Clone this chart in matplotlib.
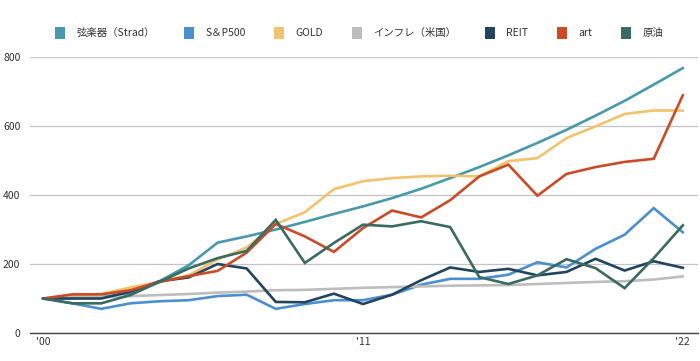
import matplotlib
matplotlib.use("Agg")
import matplotlib.pyplot as plt
from matplotlib.patches import Patch

plt.rcParams['font.family'] = ['Noto Sans CJK JP', 'DejaVu Sans']

# Index values, 2000 = 100
years = list(range(2000, 2023))
strad = [100, 101, 104, 115, 150, 196, 262, 280, 300, 322, 345, 367, 391, 418, 449, 481, 515, 551, 589, 630, 673, 720, 768]
sp500 = [100, 86, 70, 86, 92, 95, 107, 111, 70, 84, 95, 95, 111, 140, 157, 157, 169, 205, 190, 244, 285, 362, 292]
gold = [100, 107, 113, 132, 148, 167, 213, 248, 316, 350, 417, 440, 449, 454, 456, 454, 498, 507, 565, 599, 635, 645, 645]
inflation = [100, 103, 104, 107, 110, 113, 117, 120, 124, 125, 128, 131, 133, 135, 137, 138, 139, 142, 145, 148, 150, 155, 164]
reit = [100, 100, 100, 120, 150, 161, 200, 187, 90, 89, 114, 84, 111, 153, 190, 177, 186, 167, 177, 215, 181, 208, 189]
art = [100, 112, 112, 124, 148, 165, 180, 233, 316, 280, 235, 304, 355, 335, 385, 454, 488, 398, 461, 481, 496, 505, 689]
oil = [100, 86, 86, 110, 148, 187, 217, 238, 328, 203, 261, 314, 309, 324, 307, 162, 142, 167, 214, 188, 130, 217, 312]

series_names = ['弦楽器（Strad）', 'S＆P500', 'GOLD', 'インフレ（米国）', 'REIT', 'art', '原油']
series_data = [strad, sp500, gold, inflation, reit, art, oil]
colors = ['#4799ab', '#4a8fcf', '#f2c26e', '#bdbdbd', '#22445e', '#cc4b27', '#3a6b62']

tick_years = [2000, 2011, 2022]
tick_labels = ["'00", "'11", "'22"]

fig = plt.figure(figsize=(7, 3.61), dpi=100)
ax = fig.add_axes([0.043, 0.0776, 0.954, 0.7644])

for name, vals, c in zip(series_names, series_data, colors):
    ax.plot(years, vals, color=c, lw=1.9, label=name, solid_joinstyle='miter')

ax.set_ylim(0, 800)
ax.set_xlim(2000 - 0.45, 2022 + 0.52)
ax.set_yticks([0, 200, 400, 600, 800])
ax.set_xticks(tick_years)
ax.set_xticklabels(tick_labels)
ax.tick_params(axis='both', length=0, labelsize=7.5, colors='#333333')
ax.tick_params(axis='y', pad=7)
ax.tick_params(axis='x', pad=3)
ax.grid(axis='y', color='#c4c4c4', lw=0.9)
ax.set_axisbelow(True)
for s in ['top', 'right', 'left']:
    ax.spines[s].set_visible(False)
ax.spines['bottom'].set_color('#444444')
ax.spines['bottom'].set_linewidth(1.0)
ax.spines['bottom'].set_zorder(3)

handles = [Patch(facecolor=c, edgecolor='none') for c in colors]
fig.legend(handles, series_names, loc='center', bbox_to_anchor=(0.513, 0.909), ncol=7,
           frameon=False, fontsize=7.5, handlelength=0.95, handleheight=1.4,
           handletextpad=1.1, columnspacing=2.75, labelcolor='#333333')

fig.savefig('out.png', dpi=100)
